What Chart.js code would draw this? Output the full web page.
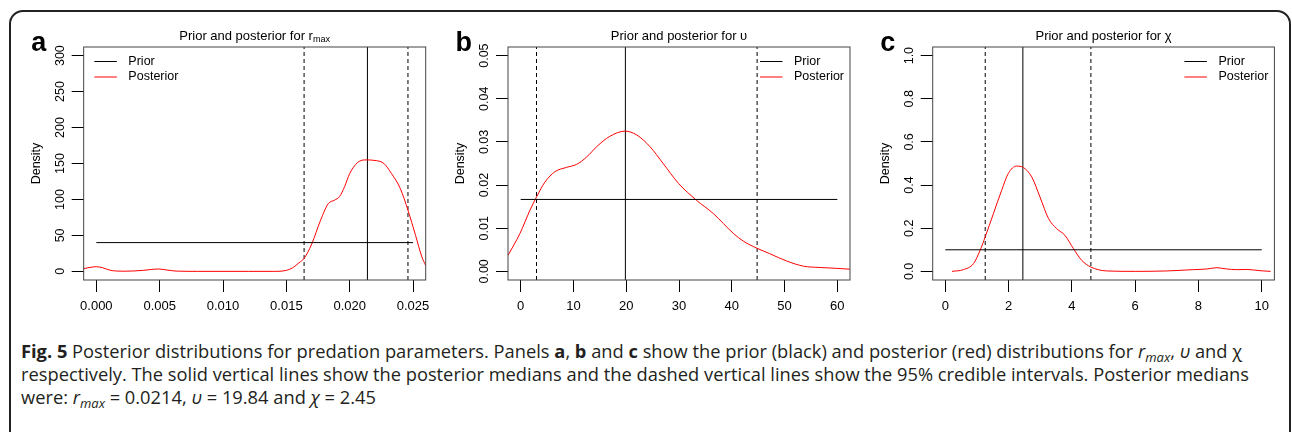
<!DOCTYPE html>
<html>
<head>
<meta charset="utf-8">
<script src="https://cdn.jsdelivr.net/npm/chart.js@4.4.1/dist/chart.umd.min.js"></script>
<style>
  html, body { margin: 0; padding: 0; background: #fff; width: 1292px; height: 432px; overflow: hidden; }
  #frame { position: absolute; left: 9px; top: 10px; width: 1282px; height: 470px; box-sizing: border-box;
           border: 2px solid #222; border-radius: 14px; }
  canvas { position: absolute; top: 0; }
  #ca { left: 0; } #cb { left: 430px; } #cc { left: 860px; }
  #caption { position: absolute; left: 21px; top: 339px; font-family: "Open Sans", sans-serif; font-size: 18.3px;
             line-height: 23px; color: #231f20; white-space: nowrap; }
  #caption b { font-weight: 700; }
  #caption sub { font-size: 13px; vertical-align: -4px; line-height: 0; }
</style>
</head>
<body>
<div id="frame"></div>
<canvas id="ca" width="440" height="320" style="width:440px;height:320px"></canvas>
<canvas id="cb" width="440" height="320" style="width:440px;height:320px"></canvas>
<canvas id="cc" width="432" height="320" style="width:432px;height:320px"></canvas>
<div id="caption"><b>Fig. 5</b> Posterior distributions for predation parameters. Panels <b>a</b>, <b>b</b> and <b>c</b> show the prior (black) and posterior (red) distributions for <i>r<sub>max</sub></i>, <i>υ</i> and χ<br>respectively. The solid vertical lines show the posterior medians and the dashed vertical lines show the 95% credible intervals. Posterior medians<br>were: <i>r<sub>max</sub></i> = 0.0214, <i>υ</i> = 19.84 and <i>χ</i> = 2.45</div>
<script>
// panel a : r_max
const aPostX = [-0.00103, -0.0005, 0, 0.0005, 0.0011, 0.0016, 0.0021, 0.0029, 0.0037, 0.0043, 0.0049, 0.0056, 0.0063, 0.008, 0.010, 0.012, 0.014, 0.0150, 0.0155, 0.0160, 0.0164, 0.0170, 0.0177, 0.0183, 0.0188, 0.0192, 0.0196, 0.0200, 0.0206, 0.0212, 0.0221, 0.0227, 0.0233, 0.0240, 0.0246, 0.0252, 0.0257, 0.0260];
const aPostY = [3.7, 5.5, 6.5, 5.0, 1.5, 0.5, 0.2, 0.5, 1.4, 2.6, 3.3, 1.8, 0.4, 0, 0, 0, 0, 1.4, 5, 12, 18, 38, 71, 94, 99, 104, 118, 136, 151, 155, 154, 150, 136, 115, 85, 50, 20, 8];
const aPriorX = [0, 0.025];
const aPriorY = [40, 40];
const aMedian = 0.0214;
const aCI = [0.0164, 0.0246];
const aXRange = [-0.001, 0.026];
const aYRange = [-12, 312];
const aXTicks = [0, 0.005, 0.010, 0.015, 0.020, 0.025];
const aXLabels = ["0.000", "0.005", "0.010", "0.015", "0.020", "0.025"];
const aYTicks = [0, 50, 100, 150, 200, 250, 300];
const aYLabels = ["0", "50", "100", "150", "200", "250", "300"];

// panel b : upsilon
const bPostX = [-2.4, -0.13, 1.77, 3.03, 4.6, 6.5, 8.7, 10.6, 12.5, 14.4, 16.9, 19.8, 22, 24.5, 27, 29.9, 33.3, 36.5, 40.3, 42.2, 44.7, 47.2, 50.4, 53.6, 56.7, 59.9, 62.4];
const bPostY = [0.0037, 0.0088, 0.0142, 0.0173, 0.0207, 0.0231, 0.0241, 0.0248, 0.0265, 0.0289, 0.0313, 0.0325, 0.0316, 0.0289, 0.0250, 0.0204, 0.0165, 0.0134, 0.0088, 0.0070, 0.0054, 0.0041, 0.0024, 0.0012, 0.0009, 0.0007, 0.0005];
const bPriorX = [0, 60];
const bPriorY = [0.01667, 0.01667];
const bMedian = 19.84;
const bCI = [3.0, 44.8];
const bXRange = [-2.4, 62.4];
const bYRange = [-0.002, 0.052];
const bXTicks = [0, 10, 20, 30, 40, 50, 60];
const bXLabels = ["0", "10", "20", "30", "40", "50", "60"];
const bYTicks = [0, 0.01, 0.02, 0.03, 0.04, 0.05];
const bYLabels = ["0.00", "0.01", "0.02", "0.03", "0.04", "0.05"];

// panel c : chi
const cPostX = [0.21, 0.57, 0.89, 1.1, 1.26, 1.52, 1.78, 1.99, 2.25, 2.47, 2.73, 2.99, 3.26, 3.52, 3.78, 4.05, 4.31, 4.6, 5.1, 6, 7, 7.84, 8.26, 8.58, 8.89, 9.21, 9.53, 9.95, 10.28];
const cPostY = [0, 0.008, 0.036, 0.098, 0.16, 0.268, 0.376, 0.454, 0.488, 0.481, 0.438, 0.345, 0.245, 0.198, 0.167, 0.105, 0.051, 0.02, 0.002, 0, 0.002, 0.008, 0.011, 0.017, 0.011, 0.008, 0.009, 0.003, 0];
const cPriorX = [0, 10];
const cPriorY = [0.1, 0.1];
const cMedian = 2.45;
const cCI = [1.26, 4.6];
const cXRange = [-0.4, 10.4];
const cYRange = [-0.04, 1.04];
const cXTicks = [0, 2, 4, 6, 8, 10];
const cXLabels = ["0", "2", "4", "6", "8", "10"];
const cYTicks = [0, 0.2, 0.4, 0.6, 0.8, 1.0];
const cYLabels = ["0.0", "0.2", "0.4", "0.6", "0.8", "1.0"];

const FONT = "'Liberation Sans', Arial, Helvetica, sans-serif";

// text with an optional subscript part, centred on cx
function drawParts(ctx, parts, cx, cy, size) {
  const subSize = size * 0.7;
  let w = 0;
  parts.forEach(p => {
    ctx.font = (p.sub ? subSize : size) + "px " + FONT;
    p.w = ctx.measureText(p.t).width;
    w += p.w;
  });
  let x = cx - w / 2;
  ctx.textAlign = "left";
  ctx.textBaseline = "middle";
  parts.forEach(p => {
    ctx.font = (p.sub ? subSize : size) + "px " + FONT;
    ctx.fillText(p.t, x, cy + (p.sub ? 3 : 0));
    x += p.w;
  });
}

// R-like decorations: box, titles, panel letter, legend
const rPlot = {
  id: "rPlot",
  afterDraw(chart, args, o) {
    const { ctx, chartArea: a } = chart;
    const cx = (a.left + a.right) / 2;
    ctx.save();
    ctx.strokeStyle = "#444";
    ctx.lineWidth = 1;
    ctx.strokeRect(a.left, a.top, a.right - a.left, a.bottom - a.top);
    ctx.fillStyle = "#000";
    drawParts(ctx, o.title, cx, 36.5, 13);
    drawParts(ctx, o.xTitle, cx, 329.5, 12.5);

    ctx.save();
    ctx.translate(a.left - 47.5, (a.top + a.bottom) / 2);
    ctx.rotate(-Math.PI / 2);
    ctx.font = "12.5px " + FONT;
    ctx.textAlign = "center";
    ctx.textBaseline = "middle";
    ctx.fillText("Density", 0, 0);
    ctx.restore();

    ctx.font = "bold 27px " + FONT;
    ctx.textAlign = "left";
    ctx.textBaseline = "alphabetic";
    ctx.fillText(o.letter, a.left - 52.5, 50.5);

    // legend
    const lx = o.legendLeft ? a.left + 10.7 : a.right - 90;
    const items = chart.data.datasets.filter(d => d.inLegend);
    ctx.font = "12.5px " + FONT;
    ctx.textBaseline = "middle";
    items.forEach((d, i) => {
      const y = 61.5 + i * 15.5;
      ctx.strokeStyle = d.borderColor;
      ctx.setLineDash([]);
      ctx.beginPath();
      ctx.moveTo(lx, y);
      ctx.lineTo(lx + 22.5, y);
      ctx.stroke();
      ctx.fillText(d.label, lx + 34, y);
    });
    ctx.restore();
  }
};

function pts(xs, ys) {
  return xs.map((x, i) => ({ x: x, y: ys[i] }));
}

function makePanel(id, p) {
  const vline = (x, dash) => ({
    data: [{ x: x, y: p.yRange[0] }, { x: x, y: p.yRange[1] }],
    borderColor: "#000", borderWidth: 1, borderDash: dash, pointRadius: 0, fill: false
  });
  new Chart(document.getElementById(id), {
    type: "line",
    data: {
      datasets: [
        { label: "Prior", inLegend: true, data: pts(p.priorX, p.priorY), borderColor: "#000", borderWidth: 1, pointRadius: 0 },
        { label: "Posterior", inLegend: true, data: pts(p.postX, p.postY), borderColor: "#ff0000", borderWidth: 1,
          pointRadius: 0, cubicInterpolationMode: "monotone" },
        vline(p.median, []),
        vline(p.ci[0], [4, 3]),
        vline(p.ci[1], [4, 3])
      ]
    },
    options: {
      responsive: false,
      animation: false,
      layout: { padding: { left: 0, top: 47, right: p.padRight, bottom: 0 } },
      scales: {
        x: {
          type: "linear", min: p.xRange[0], max: p.xRange[1],
          afterBuildTicks: s => { s.ticks = p.xTicks.map(v => ({ value: v })); },
          afterFit: s => { s.height = 40; s.paddingLeft = 0; s.paddingRight = 0; },
          grid: { display: true, drawOnChartArea: false, drawTicks: true, tickLength: 12, color: "#000", lineWidth: 1 },
          border: { display: false },
          ticks: { autoSkip: false, maxRotation: 0, padding: 6.5, color: "#000", font: { family: FONT, size: 13 },
                   callback: (v, i) => p.xLabels[i] }
        },
        y: {
          type: "linear", min: p.yRange[0], max: p.yRange[1],
          afterBuildTicks: s => { s.ticks = p.yTicks.map(v => ({ value: v })); },
          afterFit: s => { s.width = p.left; s.paddingTop = 0; s.paddingBottom = 0; },
          grid: { display: true, drawOnChartArea: false, drawTicks: true, tickLength: 12, color: "#000", lineWidth: 1 },
          border: { display: false },
          ticks: { autoSkip: false, minRotation: 90, maxRotation: 90, crossAlign: "center", padding: p.yPad,
                   color: "#000", font: { family: FONT, size: 12.5 }, callback: (v, i) => p.yLabels[i] }
        }
      },
      plugins: {
        legend: { display: false },
        tooltip: { enabled: false },
        rPlot: { title: p.title, xTitle: p.xTitle, letter: p.letter, legendLeft: p.legendLeft }
      }
    },
    plugins: [rPlot]
  });
}

makePanel("ca", {
  postX: aPostX, postY: aPostY, priorX: aPriorX, priorY: aPriorY, median: aMedian, ci: aCI,
  xRange: aXRange, yRange: aYRange, xTicks: aXTicks, xLabels: aXLabels, yTicks: aYTicks, yLabels: aYLabels,
  left: 83.67, padRight: 14.3, yPad: 0.9, letter: "a", legendLeft: true,
  title: [{ t: "Prior and posterior for r" }, { t: "max", sub: true }],
  xTitle: [{ t: "Max. predators per larvae r" }, { t: "max", sub: true }]
});
makePanel("cb", {
  postX: bPostX, postY: bPostY, priorX: bPriorX, priorY: bPriorY, median: bMedian, ci: bCI,
  xRange: bXRange, yRange: bYRange, xTicks: bXTicks, xLabels: bXLabels, yTicks: bYTicks, yLabels: bYLabels,
  left: 78, padRight: 20, yPad: -0.9, letter: "b", legendLeft: false,
  title: [{ t: "Prior and posterior for υ" }],
  xTitle: [{ t: "Timing of max. predators, υ, (days from July 1st)" }]
});
makePanel("cc", {
  postX: cPostX, postY: cPostY, priorX: cPriorX, priorY: cPriorY, median: cMedian, ci: cCI,
  xRange: cXRange, yRange: cYRange, xTicks: cXTicks, xLabels: cXLabels, yTicks: cYTicks, yLabels: cYLabels,
  left: 72.7, padRight: 17.6, yPad: 2.6, letter: "c", legendLeft: false,
  title: [{ t: "Prior and posterior for χ" }],
  xTitle: [{ t: "Predation sharpness parameter, χ" }]
});
</script>
</body>
</html>
